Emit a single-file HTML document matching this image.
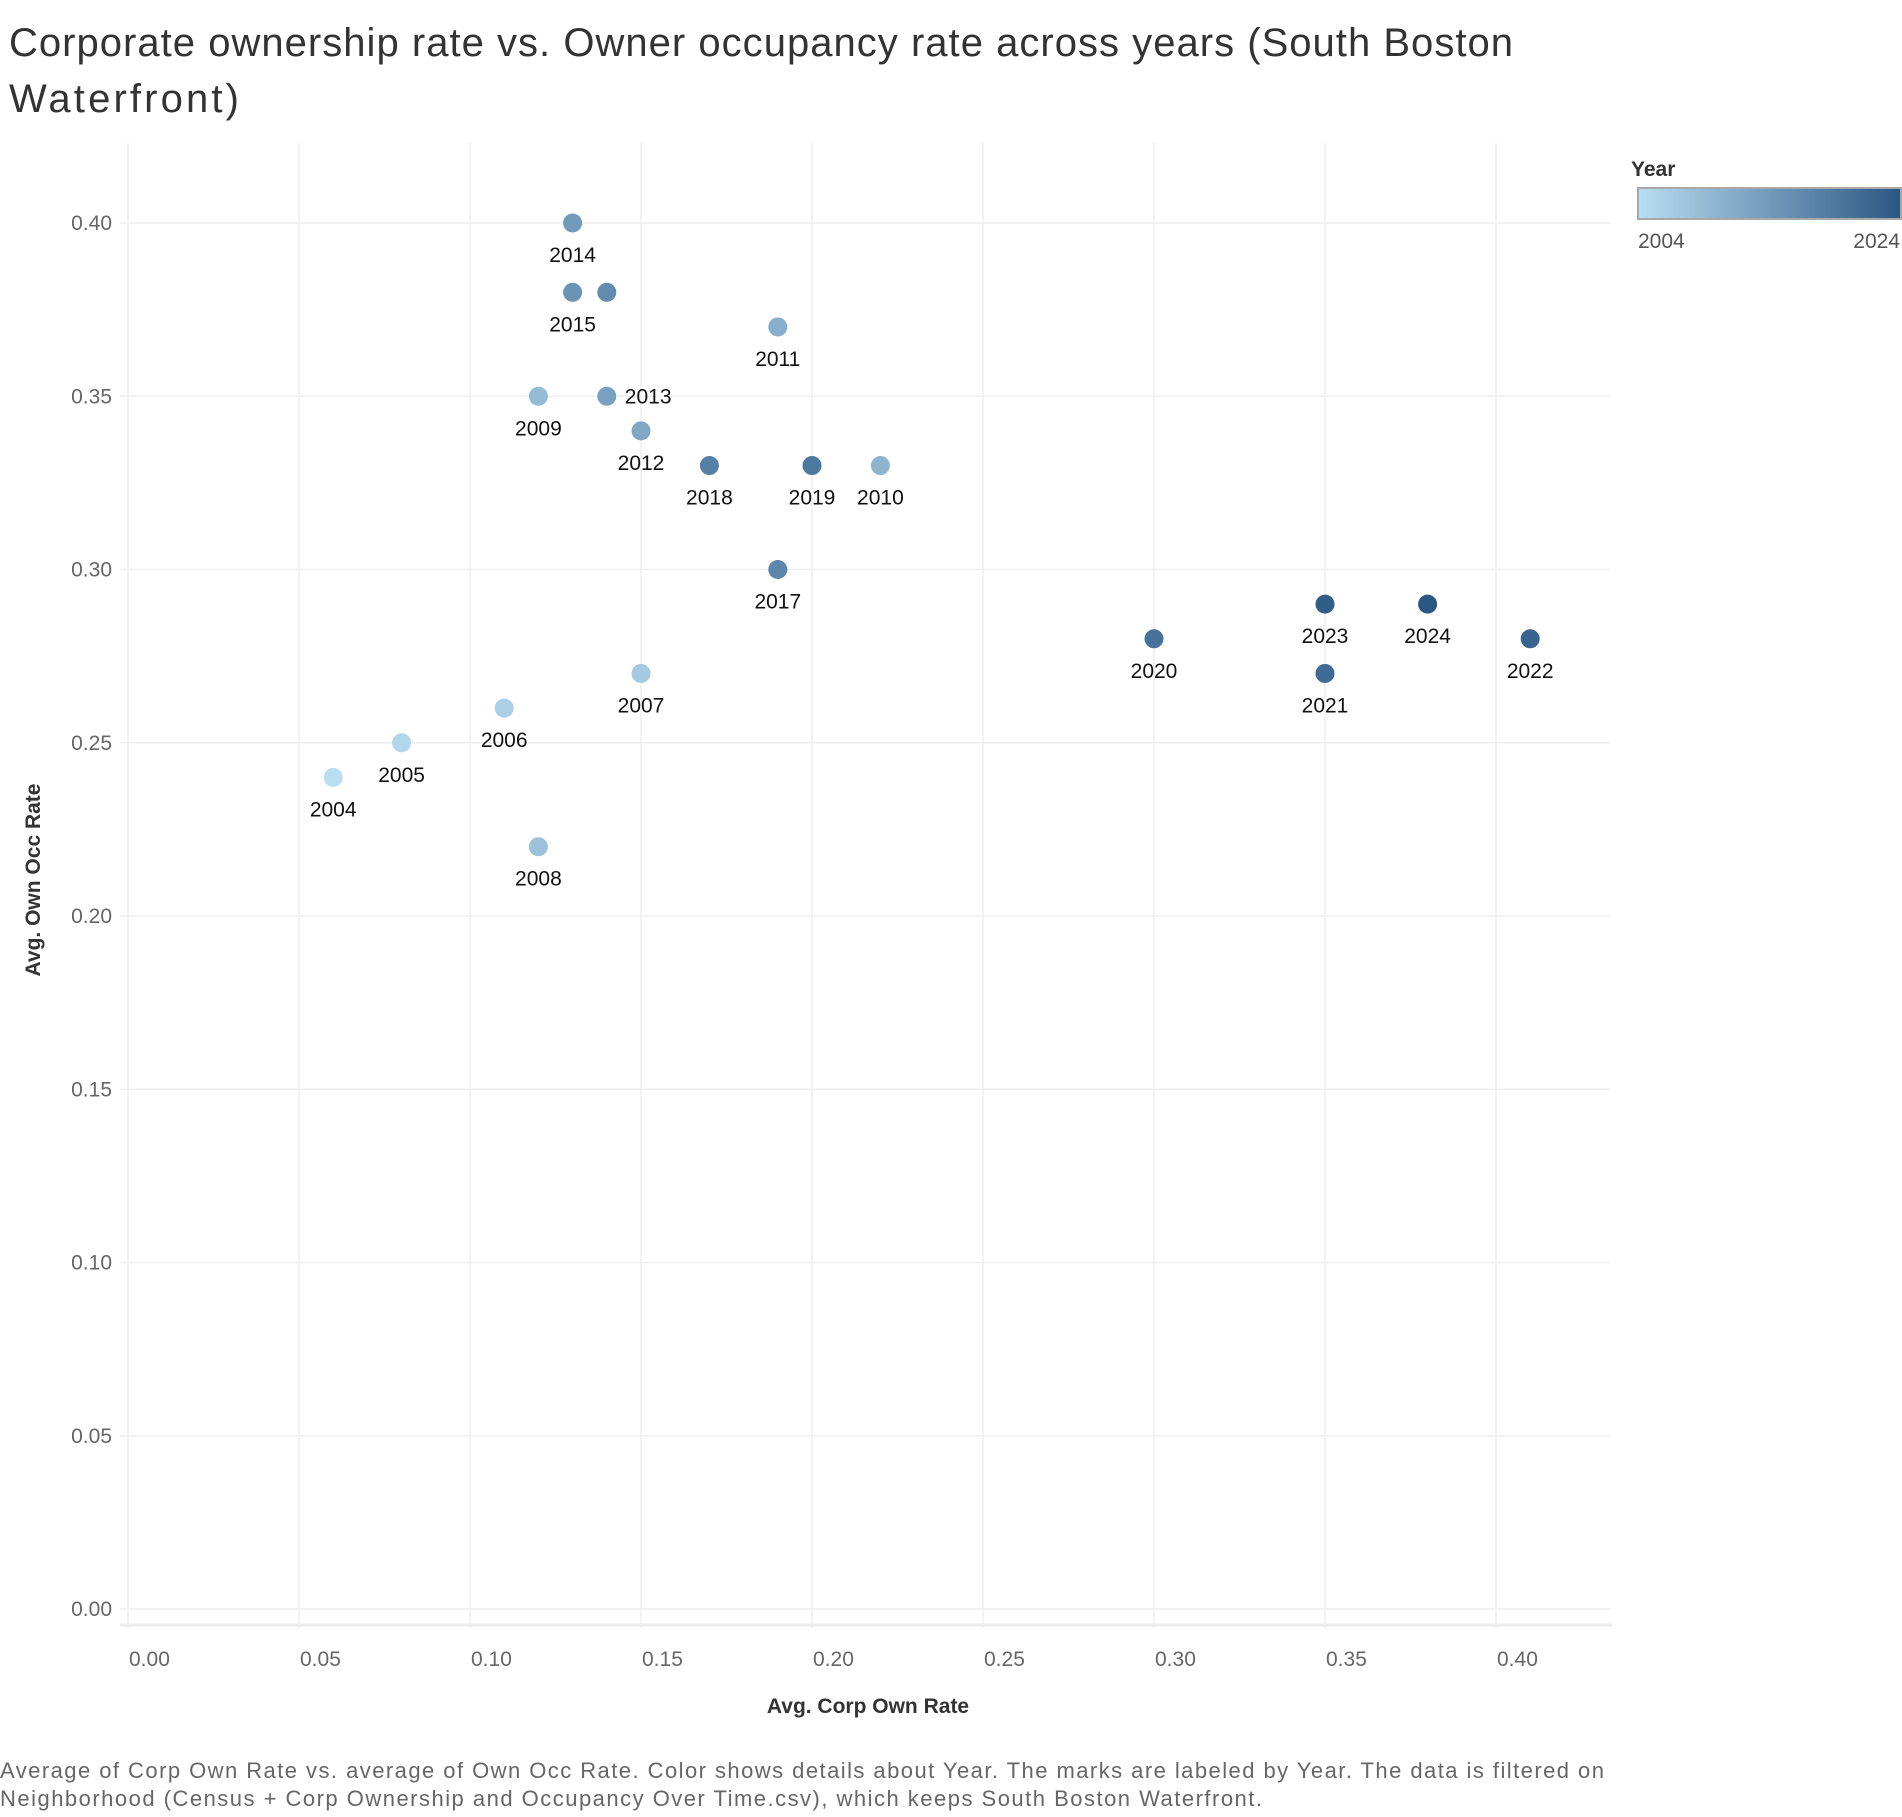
<!DOCTYPE html>
<html><head><meta charset="utf-8"><style>
body{margin:0;background:#fff;width:1902px;height:1812px;overflow:hidden;font-family:"Liberation Sans",sans-serif}
</style></head><body>
<svg id="chart" width="1902" height="1812" xmlns="http://www.w3.org/2000/svg" font-family="Liberation Sans, sans-serif">
<text x="9" y="56" font-size="40" fill="#333" textLength="1504" lengthAdjust="spacing">Corporate ownership rate vs. Owner occupancy rate across years (South Boston</text>
<text x="9" y="112" font-size="40" fill="#333" textLength="230" lengthAdjust="spacing">Waterfront)</text>
<g id="grid"></g>
<g id="axes"></g>
<g id="marks"></g>
<text x="868" y="1713" font-size="21" font-weight="bold" fill="#333" text-anchor="middle">Avg. Corp Own Rate</text>
<text transform="translate(40,880) rotate(-90)" font-size="21" font-weight="bold" fill="#333" text-anchor="middle">Avg. Own Occ Rate</text>
<g>
<text x="1631" y="176" font-size="21" font-weight="bold" fill="#333">Year</text>
<defs><linearGradient id="lg" x1="0" x2="1"><stop offset="0" stop-color="#b9ddf1"/><stop offset="1" stop-color="#2a5783"/></linearGradient></defs>
<rect x="1638" y="188" width="263" height="31" fill="url(#lg)" stroke="#a8a8a8" stroke-width="2"/>
<text x="1638" y="248" font-size="21" fill="#555">2004</text>
<text x="1900" y="248" font-size="21" fill="#555" text-anchor="end">2024</text>
</g>
<text x="0" y="1778" font-size="22" fill="#666" textLength="1604" lengthAdjust="spacing">Average of Corp Own Rate vs. average of Own Occ Rate.  Color shows details about Year.  The marks are labeled by Year. The data is filtered on</text>
<text x="0" y="1806" font-size="22" fill="#666" textLength="1262" lengthAdjust="spacing">Neighborhood (Census + Corp Ownership and Occupancy Over Time.csv), which keeps South Boston Waterfront.</text>
</svg>
<script>
const years=[2004,2005,2006,2007,2008,2009,2010,2011,2012,2013,2014,2015,2016,2017,2018,2019,2020,2021,2022,2023,2024];
const corpRate=[0.06,0.08,0.11,0.15,0.12,0.12,0.22,0.19,0.15,0.14,0.13,0.13,0.14,0.19,0.17,0.20,0.30,0.35,0.41,0.35,0.38];
const occRate=[0.24,0.25,0.26,0.27,0.22,0.35,0.33,0.37,0.34,0.35,0.40,0.38,0.38,0.30,0.33,0.33,0.28,0.27,0.28,0.29,0.29];
const labelShown=[1,1,1,1,1,1,1,1,1,1,1,1,0,1,1,1,1,1,1,1,1];
const labelRight=[0,0,0,0,0,0,0,0,0,1,0,0,0,0,0,0,0,0,0,0,0];
const xTicks=[0,0.05,0.10,0.15,0.20,0.25,0.30,0.35,0.40];
const yTicks=[0,0.05,0.10,0.15,0.20,0.25,0.30,0.35,0.40];
const X=v=>128+v*3420, Y=v=>1609-v*3465;
const ns="http://www.w3.org/2000/svg";
function mk(p,t,a){const e=document.createElementNS(ns,t);for(const k in a)e.setAttribute(k,a[k]);p.appendChild(e);return e;}
const grid=document.getElementById('grid'),axes=document.getElementById('axes'),marks=document.getElementById('marks');
xTicks.forEach(t=>{
 const l=mk(grid,'line',{x1:X(t),x2:X(t),y1:143,y2:1628,stroke:'#efefef','stroke-width':1.5});
 
 
 const tx=mk(axes,'text',{x:X(t)+1,y:1666,'font-size':21,fill:'#666','text-anchor':'start'});
 tx.textContent=t.toFixed(2);
 
 
});
yTicks.forEach(t=>{
 const l=mk(grid,'line',{x1:120,x2:1610,y1:Y(t),y2:Y(t),stroke:'#efefef','stroke-width':1.5});
 
 
 const tx=mk(axes,'text',{x:112,y:Y(t)+7,'font-size':21,fill:'#666','text-anchor':'end'});
 tx.textContent=t.toFixed(2);
 
 
});
const bl=mk(grid,'line',{x1:120,x2:1612,y1:1625,y2:1625,stroke:'#ececec','stroke-width':3});


function col(y){const f=(y-2004)/20;const a=[185,221,241],b=[42,87,131];return 'rgb('+a.map((c,i)=>Math.round(c+(b[i]-c)*f)).join(',')+')';}
years.forEach((yr,i)=>{
 const cx=X(corpRate[i]),cy=Y(occRate[i]);
 const c=mk(marks,'circle',{cx:cx,cy:cy,r:9.5,fill:col(yr)});
 
 
 if(labelShown[i]){
  const t=labelRight[i]?mk(marks,'text',{x:cx+18,y:cy+7,'font-size':21,fill:'#111'}):mk(marks,'text',{x:cx,y:cy+39,'font-size':21,fill:'#111','text-anchor':'middle'});
  t.textContent=yr;
  
  
 }
});
</script>
</body></html>
